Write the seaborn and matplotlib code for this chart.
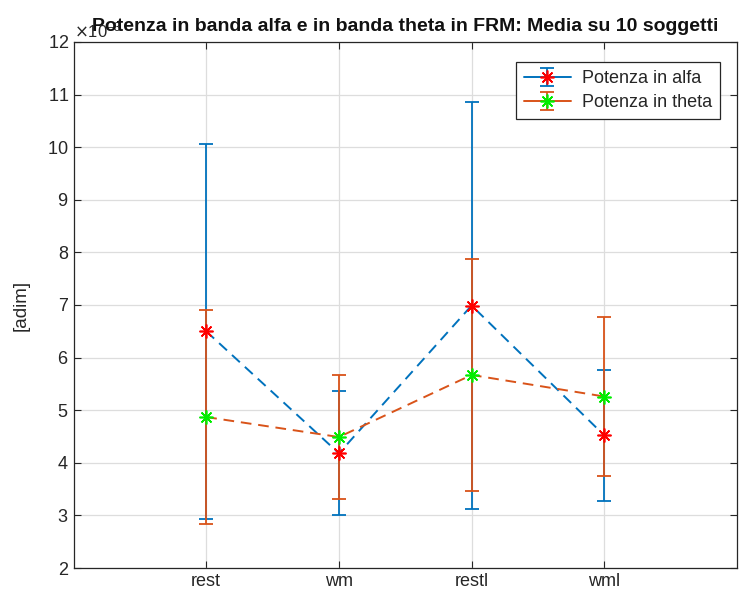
import matplotlib
matplotlib.use("Agg")
import matplotlib.pyplot as plt
import numpy as np
import pandas as pd
import seaborn as sns
from matplotlib.ticker import ScalarFormatter, FixedLocator
from matplotlib.lines import Line2D
from matplotlib.legend_handler import HandlerTuple

# Mean power (x1e-3) and standard deviation over 10 subjects, per condition
conditions = ["rest", "wm", "restl", "wml"]
alfa_mean = [6.50, 4.18, 6.99, 4.52]
alfa_std = [3.56, 1.18, 3.87, 1.24]
theta_mean = [4.87, 4.49, 5.67, 5.26]
theta_std = [2.04, 1.18, 2.20, 1.51]
y_ticks = [2, 3, 4, 5, 6, 7, 8, 9, 10, 11, 12]
unit = 1e-3

sns.set_theme(style="whitegrid")
plt.rcParams["font.family"] = ["Liberation Sans", "DejaVu Sans"]
plt.rcParams["axes.unicode_minus"] = True

blue = "#0072BD"
orange = "#D95319"
dark = "#262626"

pos = np.arange(1, len(conditions) + 1)
df = pd.DataFrame({
    "pos": np.concatenate([pos, pos]),
    "value": np.array(alfa_mean + theta_mean) * unit,
    "serie": ["Potenza in alfa"] * 4 + ["Potenza in theta"] * 4,
})

fig = plt.figure(figsize=(7.39, 6.06), dpi=100)
ax = fig.add_axes([0.0995, 0.0627, 0.8978, 0.868])
ax.set_facecolor("white")

star = (8, 2, 0)
series = [
    ("Potenza in alfa", alfa_mean, alfa_std, blue, "red"),
    ("Potenza in theta", theta_mean, theta_std, orange, "#00EE00"),
]
handles = []
for name, mean, std, col, mcol in series:
    eb = ax.errorbar(pos, np.array(mean) * unit, yerr=np.array(std) * unit,
                     fmt="none", ecolor=col, elinewidth=1.3, capsize=5,
                     capthick=1.3, zorder=3)
    sns.lineplot(data=df[df["serie"] == name], x="pos", y="value", ax=ax,
                 color=col, linestyle=(0, (5.5, 3.5)), linewidth=1.4,
                 marker=star, markersize=10, markeredgecolor=mcol,
                 markeredgewidth=1.2, legend=False, zorder=4, errorbar=None)
    proxy = Line2D([], [], color=col, linewidth=1.4, marker=star,
                   markersize=10, markeredgecolor=mcol, markeredgewidth=1.2)
    handles.append((eb, proxy))

ax.set_xlim(0, 5)
ax.set_ylim(2 * unit, 12 * unit)
ax.set_xticks(pos)
ax.set_xticklabels(conditions)
ax.yaxis.set_major_locator(FixedLocator(np.array(y_ticks) * unit))
fmt = ScalarFormatter(useMathText=True)
fmt.set_powerlimits((-3, -3))
ax.yaxis.set_major_formatter(fmt)
ax.yaxis.get_offset_text().set_fontsize(12)
ax.yaxis.get_offset_text().set_color("#666666")

ax.set_xlabel("")
ax.set_ylabel("[adim]", fontsize=13.5, color=dark, labelpad=13)
ax.set_title("Potenza in banda alfa e in banda theta in FRM: Media su 10 soggetti",
             fontsize=14, fontweight="bold", color="#111111", y=1.0, pad=8)

ax.grid(True, color="#dddddd", linewidth=0.9)
ax.tick_params(axis="both", direction="in", length=5, width=0.8, colors=dark,
               labelsize=13, top=True, right=True, bottom=True, left=True,
               labelcolor=dark)
for s in ax.spines.values():
    s.set_color(dark)
    s.set_linewidth(0.9)
    s.set_visible(True)

leg = ax.legend(handles=handles, labels=[s[0] for s in series],
                handler_map={tuple: HandlerTuple(ndivide=1)},
                loc="upper right", bbox_to_anchor=(720 / 739, (606 - 62) / 606),
                bbox_transform=fig.transFigure, borderaxespad=0,
                fontsize=13, frameon=True, fancybox=False,
                edgecolor=dark, framealpha=1, handlelength=2.6,
                borderpad=0.45, labelspacing=0.4, handletextpad=0.6)
leg.get_frame().set_linewidth(0.9)

fig.savefig("out.png", dpi=100)
